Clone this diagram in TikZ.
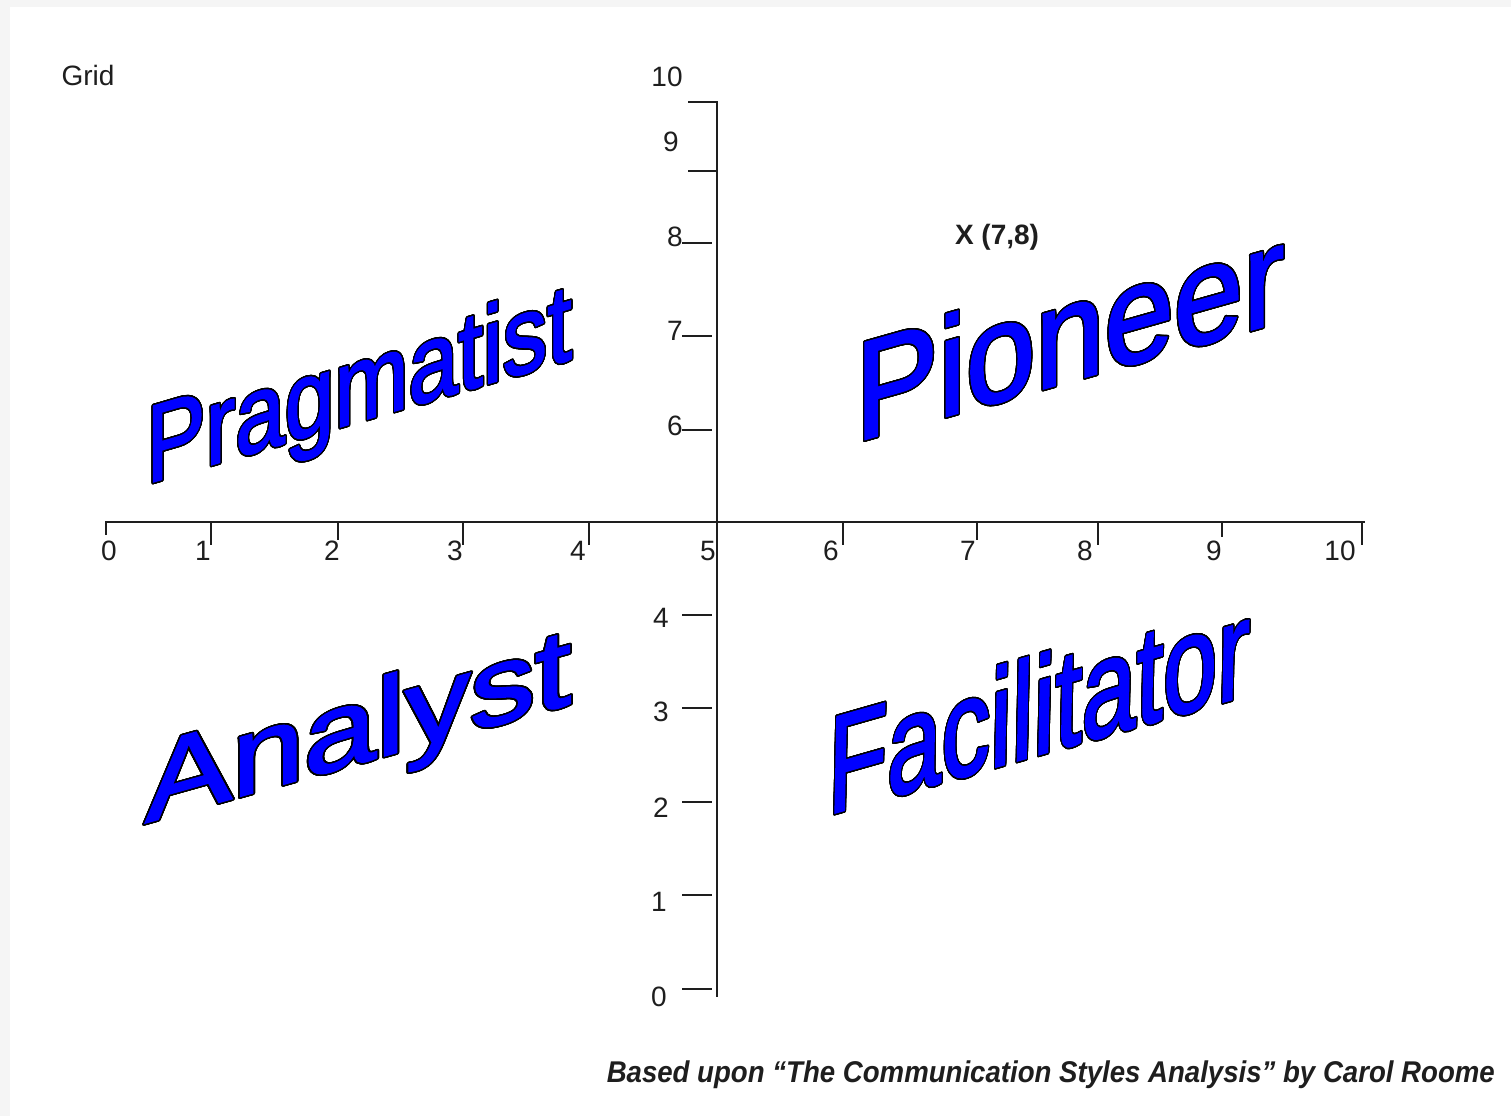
\documentclass[tikz,border=0pt]{standalone}
\usepackage{fontspec}
\setmainfont{Liberation Sans}
\newfontfamily\wafont[FakeBold=1.6]{Liberation Sans}
\usepackage[copies]{contour}
\contourlength{1.5pt}
\contournumber{32}
\definecolor{wordblue}{RGB}{0,0,255}
\definecolor{inkgray}{RGB}{30,30,30}
\tikzset{
  axisline/.style={line width=2.2pt, draw=inkgray, line cap=butt},
  ticklabel/.style={font=\fontsize{28}{34}\selectfont, inner sep=0pt, text=inkgray},
  bigword/.style={anchor=base west, inner sep=0pt, transform shape},
}
\newcommand\wordart[2]{{\wafont\fontsize{#1}{#1}\selectfont\color{wordblue}\contour{black}{#2}}}
\begin{document}
\begin{tikzpicture}[x=1pt,y=1pt]
\fill[gray!8] (0,0) rectangle (1511,1116);
\fill[white] (10,0) rectangle (1511,1109);
\useasboundingbox (0,0) rectangle (1511,1116);

% vertical axis
\draw[axisline] (688,1014) -- (717,1014) -- (717,119);
\draw[axisline] (688,945) -- (717,945);
\foreach \yy in {873,780,686,501,408,314,221,127}
  \draw[axisline] (682,\yy) -- (712,\yy);
\node[ticklabel] (v10) at (667,1039) {10};
\node[ticklabel] (v9) at (671,974) {9};
\node[ticklabel] (v8) at (675,879) {8};
\node[ticklabel] (v7) at (675,785) {7};
\node[ticklabel] (v6) at (675,690) {6};
\node[ticklabel] (v4) at (661,498) {4};
\node[ticklabel] (v3) at (661,404) {3};
\node[ticklabel] (v2) at (661,308) {2};
\node[ticklabel] (v1) at (659,214) {1};
\node[ticklabel] (v0) at (659,119) {0};

% horizontal axis
\draw[axisline] (106,581) -- (106,594) -- (1365,594);
\foreach \xx/\yb in {211/571,338/576,463/571,589/571,843/571,977/576,1098/571,1222/579,1362/571}
  \draw[axisline] (\xx,594) -- (\xx,\yb);
\node[ticklabel] (h0) at (109,565) {0};
\node[ticklabel] (h1) at (203,565) {1};
\node[ticklabel] (h2) at (332,565) {2};
\node[ticklabel] (h3) at (455,565) {3};
\node[ticklabel] (h4) at (578,565) {4};
\node[ticklabel] (h5) at (708,565) {5};
\node[ticklabel] (h6) at (831,565) {6};
\node[ticklabel] (h7) at (968,565) {7};
\node[ticklabel] (h8) at (1085,565) {8};
\node[ticklabel] (h9) at (1214,565) {9};
\node[ticklabel] (h10) at (1340,565) {10};

\node[ticklabel] (grid) at (88,1040) {Grid};
\node[ticklabel, font=\fontsize{28}{34}\selectfont\bfseries] (point) at (997,879) {X (7,8)};

% word art labels
\begin{scope}[cm={0.81,0.238,0.0,1,(146,632)}]
  \node[bigword] (pragmatist) at (0,0) {\wordart{110}{Pragmatist}};
\end{scope}
\begin{scope}[cm={0.89,0.252,0.0,1,(855,674)}]
  \node[bigword] (pioneer) at (0,0) {\wordart{140}{Pioneer}};
\end{scope}
\begin{scope}[cm={1.17,0.328,0.0,1,(145,293)}]
  \node[bigword] (analyst) at (0,0) {\wordart{111}{Analyst}};
\end{scope}
\begin{scope}[cm={0.70,0.20,0.02,1,(827,301)}]
  \node[bigword] (facilitator) at (0,0) {\wordart{139}{Facilitator}};
\end{scope}

% footer
\node[anchor=base east, inner sep=0pt, text=inkgray] (credit) at (1495,34)
  {\resizebox{888pt}{\height}{\fontsize{30}{36}\selectfont\bfseries\itshape Based upon “The Communication Styles Analysis” by Carol Roome}};
\end{tikzpicture}
\end{document}
